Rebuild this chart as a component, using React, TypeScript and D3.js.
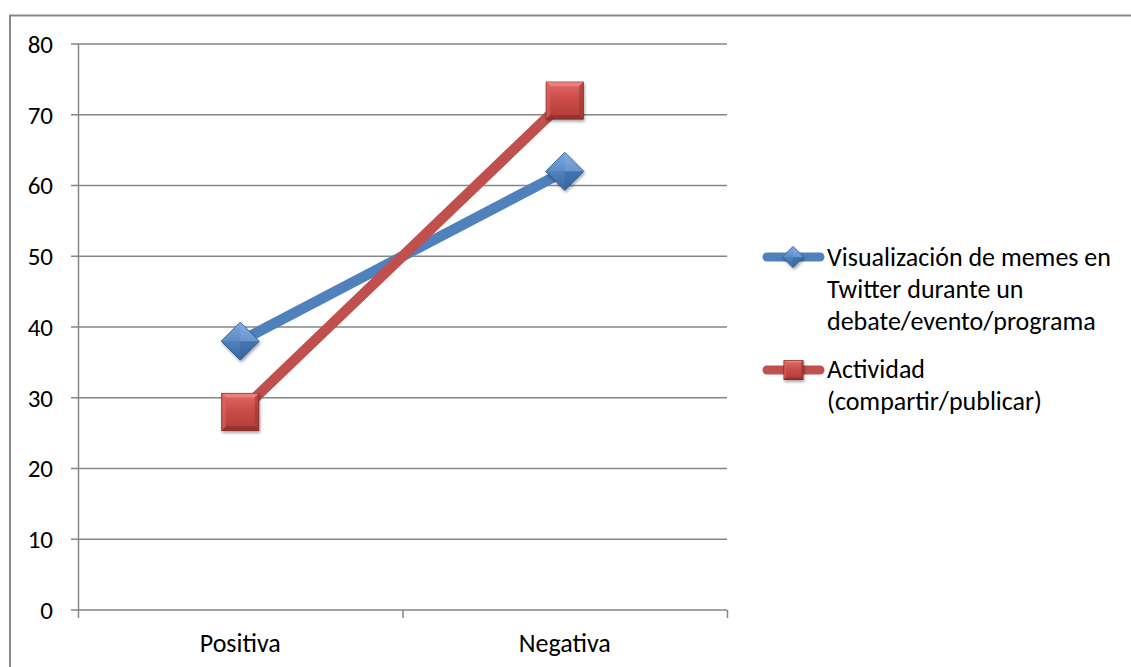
import React from "react";
import * as d3 from "d3";

const categories = ["Positiva", "Negativa"];
const visualizacion = [38, 62];
const actividad = [28, 72];
const yTicks = [0, 10, 20, 30, 40, 50, 60, 70, 80];
const legendVisualizacion = ["Visualización de memes en", "Twitter durante un", "debate/evento/programa"];
const legendActividad = ["Actividad", "(compartir/publicar)"];

const W = 1131;
const H = 667;
const FONT = "Carlito, Calibri, Lato, 'Open Sans', sans-serif";
const BLUE = "#4F81BD";
const RED = "#C0504D";
const GRID = "#868686";

export default function App() {
  const x = d3.scaleBand<string>().domain(categories).range([78, 727]).padding(0);
  const y = d3.scaleLinear().domain([0, 80]).range([610, 44]);
  const cx = (c: string) => (x(c) ?? 0) + x.bandwidth() / 2;

  const line = d3
    .line<[string, number]>()
    .x((d) => cx(d[0]))
    .y((d) => y(d[1]));

  const blueData = categories.map((c, i) => [c, visualizacion[i]] as [string, number]);
  const redData = categories.map((c, i) => [c, actividad[i]] as [string, number]);

  const diamond = (px: number, py: number, r: number, key: string) => (
    <g key={key} filter="url(#shadow)">
      <path d={`M${px},${py - r}L${px + r},${py}L${px},${py + r}L${px - r},${py}Z`} fill="url(#blueGrad)" stroke="#2C5A8F" strokeWidth={1} />
      <path d={`M${px},${py - r}L${px + r},${py}L${px},${py}Z`} fill="#7FA8DC" opacity={0.55} />
      <path d={`M${px},${py - r}L${px - r},${py}L${px},${py}Z`} fill="#6A98D2" opacity={0.45} />
      <path d={`M${px},${py + r}L${px + r},${py}L${px},${py}Z`} fill="#2F5F98" opacity={0.35} />
    </g>
  );

  const square = (px: number, py: number, h: number, key: string) => {
    const b = h * 0.22;
    return (
      <g key={key} filter="url(#shadow)">
        <rect x={px - h} y={py - h} width={2 * h} height={2 * h} fill="url(#redGrad)" stroke="#7E2A28" strokeWidth={1} />
        <path d={`M${px - h},${py - h}L${px + h},${py - h}L${px + h - b},${py - h + b}L${px - h + b},${py - h + b}Z`} fill="#F08A88" opacity={0.7} />
        <path d={`M${px - h},${py - h}L${px - h + b},${py - h + b}L${px - h + b},${py + h - b}L${px - h},${py + h}Z`} fill="#D86563" opacity={0.6} />
        <path d={`M${px + h},${py - h}L${px + h},${py + h}L${px + h - b},${py + h - b}L${px + h - b},${py - h + b}Z`} fill="#9E3734" opacity={0.6} />
        <path d={`M${px - h},${py + h}L${px + h},${py + h}L${px + h - b},${py + h - b}L${px - h + b},${py + h - b}Z`} fill="#8A2D2B" opacity={0.7} />
      </g>
    );
  };

  return (
    <svg width={W} height={H} style={{ position: "absolute", left: 0, top: 0, fontFamily: FONT }}>
      <defs>
        <linearGradient id="blueGrad" x1="0" y1="0" x2="0" y2="1">
          <stop offset="0" stopColor="#8DB4E6" />
          <stop offset="0.5" stopColor="#4F81BD" />
          <stop offset="1" stopColor="#3A6AA6" />
        </linearGradient>
        <linearGradient id="redGrad" x1="0" y1="0" x2="0" y2="1">
          <stop offset="0" stopColor="#E06765" />
          <stop offset="0.5" stopColor="#C94A47" />
          <stop offset="1" stopColor="#B03B38" />
        </linearGradient>
        <filter id="shadow" x="-50%" y="-50%" width="200%" height="200%">
          <feDropShadow dx="1" dy="2" stdDeviation="1.5" floodColor="#000" floodOpacity="0.35" />
        </filter>
      </defs>
      <rect x={0} y={0} width={W} height={H} fill="#fff" />
      {/* chart frame (right and bottom edges run past the page) */}
      <rect x={10} y={15.5} width={1130} height={700} fill="none" stroke="#888" strokeWidth={2} />

      {/* horizontal grid lines and y tick labels */}
      {yTicks.map((t) => (
        <g key={t}>
          <line x1={71} x2={727} y1={y(t)} y2={y(t)} stroke={GRID} strokeWidth={1.5} />
          <text x={53} y={y(t)} dy="0.35em" textAnchor="end" fontSize={25} fill="#000">
            {t}
          </text>
        </g>
      ))}
      {/* y axis */}
      <line x1={78.5} x2={78.5} y1={44} y2={610} stroke={GRID} strokeWidth={1.5} />
      {/* x axis tick marks */}
      {[78, 78 + x.bandwidth(), 727].map((v, i) => (
        <line key={i} x1={v + 0.5} x2={v + 0.5} y1={610} y2={618} stroke={GRID} strokeWidth={1.5} />
      ))}
      {categories.map((c) => (
        <text key={c} x={cx(c)} y={652} textAnchor="middle" fontSize={26} fill="#000">
          {c}
        </text>
      ))}

      {/* series lines */}
      <path d={line(blueData) ?? ""} fill="none" stroke={BLUE} strokeWidth={10.5} />
      <path d={line(redData) ?? ""} fill="none" stroke={RED} strokeWidth={10.5} />

      {/* markers */}
      {blueData.map((d, i) => diamond(cx(d[0]), y(d[1]), 19, `b${i}`))}
      {redData.map((d, i) => square(cx(d[0]), y(d[1]), 18.5, `r${i}`))}

      {/* legend */}
      <g>
        <line x1={767} x2={820} y1={257} y2={257} stroke={BLUE} strokeWidth={9} strokeLinecap="round" />
        {diamond(793, 257, 10.5, "lb")}
        {legendVisualizacion.map((s, i) => (
          <text key={s} x={827} y={266 + i * 32} fontSize={26} fill="#000">
            {s}
          </text>
        ))}
        <line x1={767} x2={820} y1={370} y2={370} stroke={RED} strokeWidth={9} strokeLinecap="round" />
        {square(793.5, 370, 9.5, "lr")}
        {legendActividad.map((s, i) => (
          <text key={s} x={827} y={378 + i * 32} fontSize={26} fill="#000">
            {s}
          </text>
        ))}
      </g>
    </svg>
  );
}
